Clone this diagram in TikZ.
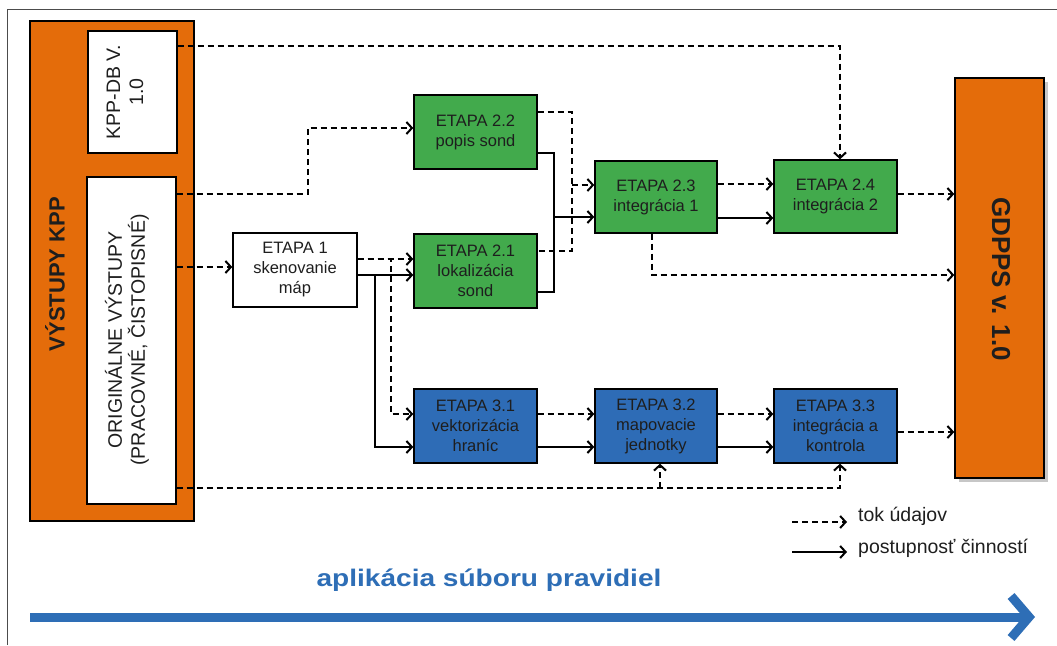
\documentclass[tikz,border=0pt]{standalone}
\usepackage{fontspec}
\setmainfont{Liberation Sans}
\usepackage{graphicx}
\usetikzlibrary{arrows.meta,calc}

\definecolor{kpporange}{RGB}{228,108,10}
\definecolor{stagegreen}{RGB}{66,170,76}
\definecolor{stageblue}{RGB}{46,108,182}
\definecolor{ruleblue}{RGB}{46,110,182}
\definecolor{inktext}{RGB}{30,30,30}

\begin{document}
\begin{tikzpicture}[x=1pt,y=-1pt,
  stagebox/.style={draw=black, line width=1.4pt, minimum width=123pt, minimum height=74pt,
    inner sep=0pt, align=center, text=inktext, font=\fontsize{16.5}{20}\selectfont},
  greenbox/.style={stagebox, fill=stagegreen},
  bluebox/.style={stagebox, fill=stageblue},
  whitebox/.style={draw=black, line width=1.4pt, fill=white, inner sep=0pt},
  orangebox/.style={draw=black, line width=1.4pt, fill=kpporange, inner sep=0pt},
  tip/.style={-{Straight Barb[length=5.5pt,width=12pt]}},
  dat/.style={line width=2pt, dash pattern=on 6pt off 4pt, tip},
  datline/.style={line width=2pt, dash pattern=on 6pt off 4pt},
  act/.style={line width=2pt, tip},
  actline/.style={line width=2pt},
  vlabel/.style={rotate=90, align=center, text=inktext, font=\fontsize{19.5}{23}\selectfont}
]
\useasboundingbox (0,0) rectangle (1057,645);

% page frame
\draw[black!70, line width=1pt] (7,645) -- (7,9) -- (1057,9);

% left block: outputs of KPP
\node[orangebox, minimum width=164pt, minimum height=500pt] (kpp) at (112,271) {};
\node[rotate=90, font=\fontsize{22}{26}\selectfont\bfseries, text=inktext] (kpplabel) at (55,274) {VÝSTUPY KPP};
\node[whitebox, minimum width=89pt, minimum height=122pt] (kppdb) at (132.5,92) {};
\node[vlabel] (kppdbtext) at (125,92) {KPP-DB V.\\1.0};
\node[whitebox, minimum width=89pt, minimum height=327pt] (orig) at (131.5,340.5) {};
\node[vlabel] (origtext) at (127,340) {ORIGINÁLNE VÝSTUPY\\(PRACOVNÉ, ČISTOPISNÉ)};

% right block: GDPPS
\fill[black!22] (959,82) rectangle (1048,482);
\node[orangebox, minimum width=89pt, minimum height=400pt] (gd) at (999.5,278) {};
\node[rotate=-90, font=\fontsize{26}{30}\selectfont\bfseries, text=inktext] (gdlabel) at (1001,279) {GDPPS v. 1.0};

% stages
\node[stagebox, fill=white, minimum width=124pt] (e1) at (295,270) {ETAPA 1\\skenovanie\\máp};
\node[greenbox] (e22) at (475.5,132) {ETAPA 2.2\\popis sond};
\node[greenbox] (e21) at (475.5,271) {ETAPA 2.1\\lokalizácia\\sond};
\node[greenbox, minimum width=122pt, minimum height=72pt] (e23) at (656,197) {ETAPA 2.3\\integrácia 1};
\node[greenbox, minimum height=73pt] (e24) at (835.5,196.5) {ETAPA 2.4\\integrácia 2};
\node[bluebox] (e31) at (475.5,426) {ETAPA 3.1\\vektorizácia\\hraníc};
\node[bluebox, minimum width=122pt] (e32) at (656,426) {ETAPA 3.2\\mapovacie\\jednotky};
\node[bluebox] (e33) at (835.5,426) {ETAPA 3.3\\integrácia a\\kontrola};

% data flow from the KPP outputs
\coordinate (dbout) at ($(kppdb.east)+(0,-46)$);
\coordinate (e24in) at ($(e24.north)+(4.5,0)$);
\draw[dat] (dbout) -| (e24in);

\coordinate (origtop) at ($(orig.east)+(0,-146.5)$);
\coordinate (e22in) at ($(e22.west)+(0,-4)$);
\draw[dat] (origtop) -- ++(131,0) |- (e22in);

\coordinate (e1in) at ($(e1.west)+(0,-3)$);
\draw[dat] (orig.east |- e1in) -- (e1in);

\coordinate (origbot) at ($(orig.east)+(0,147.5)$);
\coordinate (e33in) at ($(e33.south)+(4.5,0)$);
\coordinate (e32in) at ($(e32.south)+(4,0)$);
\draw[dat] (origbot) -| (e33in);
\draw[dat] (e32in |- origbot) -- (e32in);

% ETAPA 1 to stages 2.1 and 3.1
\coordinate (e1dat) at ($(e1.east)+(0,-11)$);
\coordinate (e1act) at ($(e1.east)+(0,5)$);
\draw[dat] (e1dat) -- (e1dat -| e21.west);
\draw[act] (e1act) -- (e1act -| e21.west);
\coordinate (e31dat) at ($(e31.west)+(0,-12)$);
\coordinate (e31act) at ($(e31.west)+(0,21)$);
\draw[dat] (e1dat) -- ++(33,0) |- (e31dat);
\draw[act] (e1act) -- ++(17,0) |- (e31act);

% stage 3 chain
\coordinate (e31datout) at ($(e31.east)+(0,-12)$);
\coordinate (e31actout) at ($(e31.east)+(0,21)$);
\draw[dat] (e31datout) -- (e31datout -| e32.west);
\draw[act] (e31actout) -- (e31actout -| e32.west);
\coordinate (e32datout) at ($(e32.east)+(0,-12)$);
\coordinate (e32actout) at ($(e32.east)+(0,21)$);
\draw[dat] (e32datout) -- (e32datout -| e33.west);
\draw[act] (e32actout) -- (e32actout -| e33.west);
\coordinate (e33out) at ($(e33.east)+(0,6)$);
\draw[dat] (e33out) -- (e33out -| gd.west);

% stages 2.1 and 2.2 merge into 2.3
\draw[datline] ($(e22.east)+(0,-20)$) -- ++(34,0) coordinate (datjoin) |- ($(e21.east)+(0,-20)$);
\coordinate (e23dat) at ($(e23.west)+(0,-12)$);
\draw[dat] (datjoin |- e23dat) -- (e23dat);
\draw[actline] ($(e22.east)+(0,21)$) -- ++(16,0) coordinate (actjoin) |- ($(e21.east)+(0,21)$);
\coordinate (e23act) at ($(e23.west)+(0,20)$);
\draw[act] (actjoin |- e23act) -- (e23act);

% 2.3 to 2.4 and GDPPS
\coordinate (e23datout) at ($(e23.east)+(0,-13)$);
\coordinate (e23actout) at ($(e23.east)+(0,21)$);
\draw[dat] (e23datout) -- (e23datout -| e24.west);
\draw[act] (e23actout) -- (e23actout -| e24.west);
\coordinate (e23down) at ($(e23.south)+(-4,0)$);
\coordinate (gdin) at ($(gd.west)+(0,-3)$);
\draw[dat] (e23down) |- (gdin);
\coordinate (e24out) at ($(e24.east)+(0,-2.5)$);
\draw[dat] (e24out) -- (e24out -| gd.west);

% legend
\coordinate (lgd1a) at (792,522);
\coordinate (lgd1b) at (847,522);
\coordinate (lgd2a) at (792,552);
\coordinate (lgd2b) at (847,552);
\draw[dat] (lgd1a) -- (lgd1b);
\draw[act] (lgd2a) -- (lgd2b);
\node[anchor=base west, text=inktext, font=\fontsize{19.5}{23}\selectfont, inner sep=0pt] (lgdtext1) at (858,521) {tok údajov};
\node[anchor=base west, text=inktext, font=\fontsize{19.5}{23}\selectfont, inner sep=0pt] (lgdtext2) at (858,553) {postupnosť činností};

% rule set arrow
\node[text=ruleblue, font=\fontsize{24}{28}\selectfont\bfseries] (ruletext) at (489,580) {\scalebox{1.17}[1]{aplikácia súboru pravidiel}};
\coordinate (rulestart) at (30,617);
\coordinate (ruleend) at (1035,617);
\draw[ruleblue, line width=9pt, -{Straight Barb[length=18pt,width=42pt]}] (rulestart) -- (ruleend);
\end{tikzpicture}
\end{document}
